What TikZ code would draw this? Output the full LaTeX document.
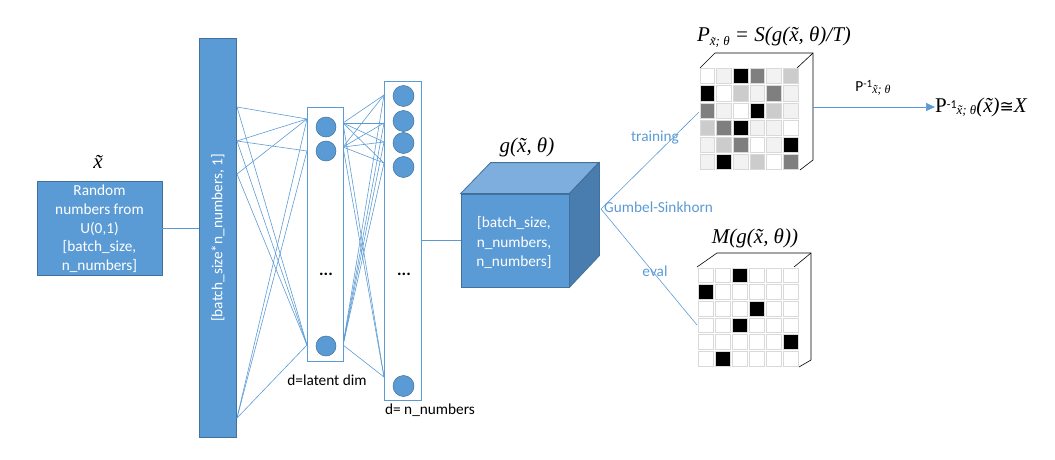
\documentclass[tikz,border=0pt]{standalone}
\usepackage{fontspec}
\setmainfont{Carlito}
\newfontfamily\tms{Liberation Serif}
\newfontfamily\dvs{DejaVu Sans}
\usetikzlibrary{arrows.meta,calc}
\definecolor{bblue}{HTML}{5B9BD5}
\definecolor{bdark}{HTML}{41719C}
\definecolor{btop}{HTML}{7DAEDD}
\definecolor{bside}{HTML}{4A7DAF}
\definecolor{cl}{HTML}{F2F2F2}
\definecolor{cm}{HTML}{CCCCCC}
\definecolor{cg}{HTML}{7F7F7F}
\definecolor{cb}{HTML}{D9D9D9}
\newcommand\szA{\fontsize{15.3}{18.7}\selectfont}
\newcommand\mfnt{\tms\itshape\fontsize{21}{24}\selectfont}
\newcommand\lsub[1]{\raisebox{-0.45ex}{\fontsize{13}{13}\selectfont #1}}
\begin{document}
\begin{tikzpicture}[x=1pt,y=-1pt,
  bluebox/.style={draw=bdark, fill=bblue, line width=0.8pt, inner sep=0pt},
  layerbox/.style={draw=bblue, fill=white, line width=0.8pt, inner sep=0pt},
  neuron/.style={circle, draw=bdark, fill=bblue, line width=0.5pt, minimum size=20pt, inner sep=0pt},
  conn/.style={draw=bblue, line width=0.6pt},
  wtxt/.style={text=white, font=\szA, align=center, inner sep=0pt},
  btxt/.style={text=black, font=\szA, inner sep=0pt},
  bltxt/.style={text=bblue, font=\szA, inner sep=0pt},
  mlbl/.style={font=\mfnt, inner sep=0pt},
  cubeedge/.style={draw=bdark, line width=0.8pt},
  outl/.style={draw=black, line width=0.6pt},
  cell/.style={draw=cb, line width=1pt}
]
\useasboundingbox (0,0) rectangle (1055,460);

% input box
\node[bluebox, minimum width=125pt, minimum height=94pt] (inp) at (99.5,228) {};
\node[wtxt] (inptxt) at (99.5,229) {Random\\numbers from\\U(0,1)\\{[}batch\_size,\\n\_numbers]};
\node[mlbl] (xt) at (98,162) {\~{x}};

% tall bar
\node[bluebox, minimum width=37pt, minimum height=399pt] (bar) at (218,237.5) {};
\node[wtxt, rotate=90] (bartxt) at (218,238) {[batch\_size*n\_numbers, 1]};
\draw[conn] (inp.east) -- (inp.east -| bar.west);

% coordinates for connections
\coordinate (a1) at (237,107);
\coordinate (a2) at (237,141);
\coordinate (a3) at (237,174);
\coordinate (a4) at (237,418);
\coordinate (t1) at (307,119);
\coordinate (t2) at (307,151);
\coordinate (t3) at (307,345);
\coordinate (s1) at (343,123);
\coordinate (s2) at (343,147);
\coordinate (s3) at (343,345);
\coordinate (o1) at (384,95);
\coordinate (o2) at (384,123);
\coordinate (o3) at (384,142);
\coordinate (o4) at (384,163);
\coordinate (o5) at (384,377);

\foreach \p/\q in {a1/t1,a1/t3,a2/t1,a2/t2,a2/t3,a3/t1,a3/t3,a4/t1,a4/t2,a4/t3}
  \draw[conn] (\p) -- (\q);
\foreach \p in {s1,s2,s3}
  \foreach \q in {o1,o2,o3,o4,o5}
    \draw[conn] (\p) -- (\q);

% latent layer
\node[layerbox, minimum width=36pt, minimum height=254pt] (lat) at (325,234) {};
\node[neuron] (l1) at (326,127) {};
\node[neuron] (l2) at (326,151) {};
\node[neuron] (l3) at (326,346) {};
\node[btxt, font=\fontsize{17}{20}\selectfont\bfseries] (ldots) at (326,274) {...};
\node[btxt] (latlbl) at (327,380) {d=latent dim};

% output layer
\node[layerbox, minimum width=37pt, minimum height=319pt] (out) at (402.5,240.5) {};
\node[neuron, minimum size=21pt] (n1) at (403.5,96) {};
\node[neuron, minimum size=21pt] (n2) at (403.5,121) {};
\node[neuron, minimum size=21pt] (n3) at (403.5,143) {};
\node[neuron, minimum size=21pt] (n4) at (403.5,167) {};
\node[neuron, minimum size=21pt] (n5) at (403.5,386) {};
\node[btxt, font=\fontsize{17}{20}\selectfont\bfseries] (odots) at (404,274) {...};
\node[btxt] (outlbl) at (430,410) {d= n\_numbers};

% cube
\node[bluebox, minimum width=108pt, minimum height=93pt] (cube) at (515,240.5) {};
\draw[cubeedge, fill=btop] (cube.north west) -- ++(30,-31) -- ++(108,0) -- (cube.north east) -- cycle;
\draw[cubeedge, fill=bside] (cube.north east) -- ++(30,-31) -- ++(0,93) -- (cube.south east) -- cycle;
\node[wtxt, font=\fontsize{15.3}{19.5}\selectfont] (cubetxt) at (514,243) {{[}batch\_size,\\n\_numbers,\\n\_numbers]};
\node[mlbl] (glbl) at (527,147) {g(\~{x}, θ)};
\draw[conn] (out.east) -- (cube.west);

% Gumbel-Sinkhorn branches
\coordinate (gs) at (601,209);
\coordinate (tin) at (699,112);
\coordinate (bin) at (697,325);
\draw[conn] (tin) -- (gs) -- (bin);
\node[bltxt, anchor=west] (gslbl) at (604,207) {Gumbel-Sinkhorn};
\node[bltxt] (trlbl) at (655,138) {training};
\node[bltxt] (evlbl) at (655,271) {eval};

% top matrix
\draw[outl] (700,68) -- (715,53) -- (813,53) -- (813,160) -- (800,170);
\draw[outl] (797,68) -- (813,53);
\foreach \row [count=\r] in {{white,cl,black,cg,cl,cm},{black,white,cm,cl,cg,cl},{cg,cl,white,black,cm,cl},{cm,cg,black,cl,cl,white},{cl,cm,cg,white,cl,black},{cl,black,cl,cm,white,cg}}
  \foreach \col [count=\c] in \row
    \filldraw[cell, fill=\col] ({699+(\c-1)*16.67+1},{68+(\r-1)*17+1}) rectangle ++(14.7,15);
\node[mlbl] (plbl) at (774,37) {P\lsub{\~{x}; θ} = S(g(\~{x}, θ)/T)};

% bottom matrix
\draw[outl] (697,267) -- (717,253) -- (811,253) -- (811,360) -- (799,367);
\draw[outl] (794,267) -- (811,253);
\foreach \row [count=\r] in {{white,white,black,white,white,white},{black,white,white,white,white,white},{white,white,white,black,white,white},{white,white,black,white,white,white},{white,white,white,white,white,black},{white,black,white,white,white,white}}
  \foreach \col [count=\c] in \row
    \filldraw[cell, fill=\col] ({697+(\c-1)*17+1},{267+(\r-1)*16.67+1}) rectangle ++(15,14.7);
\node[mlbl] (mlbl) at (755,238) {M(g(\~{x}, θ))};

% final arrow
\coordinate (arrs) at (813,107);
\node[inner sep=0pt, anchor=west] (res) at (935,107) {{\tms\fontsize{21}{24}\selectfont P}\raisebox{0.8ex}{\fontsize{12}{12}\selectfont -1}\raisebox{-0.45ex}{\tms\itshape\fontsize{13}{13}\selectfont \~{x}; θ}{\mfnt(\~{x})}{\dvs\fontsize{17}{20}\selectfont ≅}{\mfnt X}};
\draw[conn, -{Triangle[length=9pt,width=8pt]}] (arrs) -- (res.west);
\node[inner sep=0pt] (arrlbl) at (873,88) {{\szA P}\raisebox{0.7ex}{\fontsize{11}{11}\selectfont -1}\raisebox{-0.5ex}{\tms\itshape\fontsize{12}{12}\selectfont \~{x}; θ}};
\end{tikzpicture}
\end{document}
